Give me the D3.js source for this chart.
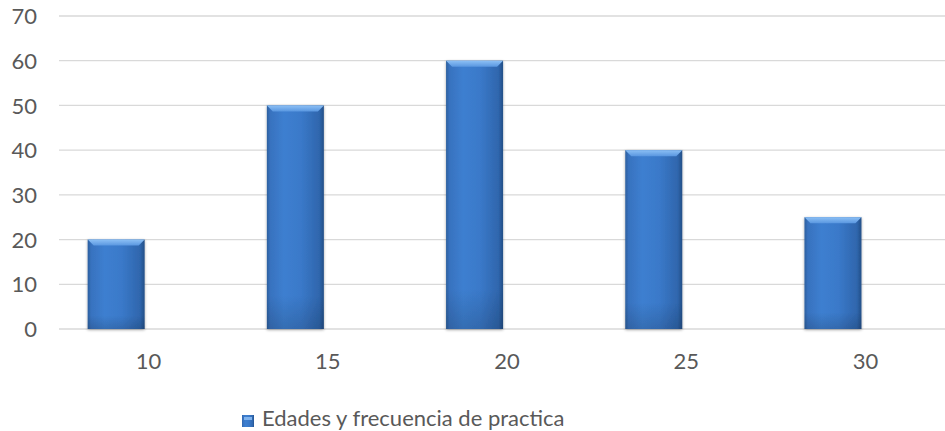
<!DOCTYPE html>
<html>
<head>
<meta charset="utf-8">
<script src="https://cdn.jsdelivr.net/npm/d3@7"></script>
<style>
  html, body { margin: 0; padding: 0; background: #fff; }
  svg { display: block; }
  text { font-family: Lato, "Open Sans", sans-serif; fill: #595959; }
</style>
</head>
<body>
<svg id="chart" width="945" height="431"></svg>
<script>
const categories = ["10", "15", "20", "25", "30"];
const values = [20, 50, 60, 40, 25];
const seriesName = "Edades y frecuencia de practica";
const yTicks = [0, 10, 20, 30, 40, 50, 60, 70];

const W = 945, H = 431;
const svg = d3.select("#chart");

const x = d3.scaleBand().domain(categories).range([59, 955]).padding(0);
const y = d3.scaleLinear().domain([0, 70]).range([329, 16]);

const defs = svg.append("defs");
const g1 = defs.append("linearGradient").attr("id", "barGrad")
  .attr("x1", "0").attr("x2", "1").attr("y1", "0").attr("y2", "0");
[[0, "#2c5f9e"], [0.06, "#3872bf"], [0.3, "#3d7fd0"], [0.6, "#3a79c9"], [0.92, "#2f66ad"], [1, "#234f87"]]
  .forEach(([o, c]) => g1.append("stop").attr("offset", o).attr("stop-color", c));
const g2 = defs.append("linearGradient").attr("id", "barVert")
  .attr("x1", "0").attr("x2", "0").attr("y1", "0").attr("y2", "1");
[[0, "#ffffff", 0], [0.85, "#000000", 0], [1, "#000000", 0.14]]
  .forEach(([o, c, op]) => g2.append("stop").attr("offset", o).attr("stop-color", c).attr("stop-opacity", op));
const g3 = defs.append("linearGradient").attr("id", "bevel")
  .attr("x1", "0").attr("x2", "0").attr("y1", "0").attr("y2", "1");
[[0, "#8cc0f5"], [1, "#5a97e0"]]
  .forEach(([o, c]) => g3.append("stop").attr("offset", o).attr("stop-color", c));
const sh = defs.append("filter").attr("id", "shadow").attr("x", "-20%").attr("y", "-5%").attr("width", "140%").attr("height", "115%");
sh.append("feGaussianBlur").attr("in", "SourceAlpha").attr("stdDeviation", 1.5);
sh.append("feOffset").attr("dx", 0).attr("dy", 1).attr("result", "b");
sh.append("feComponentTransfer").append("feFuncA").attr("type", "linear").attr("slope", 0.35);
const m = sh.append("feMerge");
m.append("feMergeNode");
m.append("feMergeNode").attr("in", "SourceGraphic");

// gridlines
svg.append("g").selectAll("line").data(yTicks).join("line")
  .attr("x1", 59).attr("x2", W)
  .attr("y1", d => y(d)).attr("y2", d => y(d))
  .attr("stroke", "#d9d9d9").attr("stroke-width", 1.3);

// y axis labels
const yAxis = d3.axisLeft(y).tickValues(yTicks).tickSize(0).tickPadding(0);
const ya = svg.append("g").attr("transform", "translate(37,0)").call(yAxis);
ya.select(".domain").remove();
ya.selectAll("text").style("font-size", "22px").attr("fill", "#595959").attr("dy", "0.35em");

// x axis labels
const xAxis = d3.axisBottom(x).tickSize(0).tickPadding(0);
const xa = svg.append("g").attr("transform", "translate(0," + (y(0) + 32) + ")").call(xAxis);
xa.select(".domain").remove();
xa.selectAll("text").style("font-size", "22px").attr("fill", "#595959").attr("dy", "0.35em");

// bars
const barOff = 0.16, barFrac = 0.318;
const bars = svg.append("g").selectAll("g").data(categories.map((c, i) => ({ c, v: values[i] }))).join("g")
  .attr("filter", "url(#shadow)");
bars.append("rect")
  .attr("x", d => x(d.c) + x.bandwidth() * barOff)
  .attr("width", x.bandwidth() * barFrac)
  .attr("y", d => y(d.v))
  .attr("height", d => y(0) - y(d.v))
  .attr("fill", "url(#barGrad)");
bars.append("rect")
  .attr("x", d => x(d.c) + x.bandwidth() * barOff)
  .attr("width", x.bandwidth() * barFrac)
  .attr("y", d => y(d.v))
  .attr("height", d => y(0) - y(d.v))
  .attr("fill", "url(#barVert)");
bars.append("polygon")
  .attr("points", d => {
    const x0 = x(d.c) + x.bandwidth() * barOff, x1 = x0 + x.bandwidth() * barFrac;
    const t = y(d.v), b = 6;
    return [[x0, t], [x1, t], [x1 - b, t + b], [x0 + b, t + b]].map(p => p.join(",")).join(" ");
  })
  .attr("fill", "url(#bevel)");

// legend
const lg = svg.append("g").attr("transform", "translate(242,415)");
lg.append("rect").attr("width", 12).attr("height", 12).attr("fill", "url(#barGrad)");
lg.append("rect").attr("x", 2).attr("y", 2).attr("width", 8).attr("height", 3).attr("fill", "#7fb3ee");
lg.append("text").attr("x", 20).attr("y", 11).style("font-size", "22px").text(seriesName);
</script>
</body>
</html>
